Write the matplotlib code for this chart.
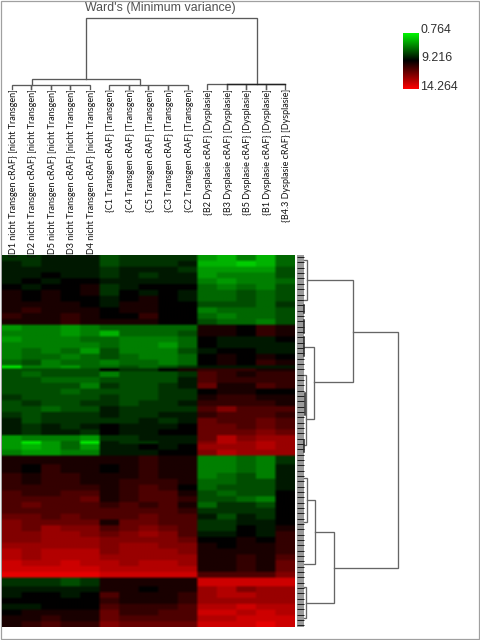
import numpy as np
import matplotlib
matplotlib.use("Agg")
import matplotlib.pyplot as plt
from matplotlib.colors import LinearSegmentedColormap
from matplotlib.patches import Rectangle

W, H = 481, 640
NARROW = ['Lato', 'Liberation Sans', 'DejaVu Sans']
SANS = ['Liberation Sans', 'DejaVu Sans']

title = "Ward's (Minimum variance)"
samples = ["{D1 nicht Transgen cRAF} [nicht Transgen]", "{D2 nicht Transgen cRAF} [nicht Transgen]",
           "{D5 nicht Transgen cRAF} [nicht Transgen]", "{D3 nicht Transgen cRAF} [nicht Transgen]",
           "{D4 nicht Transgen cRAF} [nicht Transgen]",
           "{C1 Transgen cRAF} [Transgen]", "{C4 Transgen cRAF} [Transgen]", "{C5 Transgen cRAF} [Transgen]",
           "{C3 Transgen cRAF} [Transgen]", "{C2 Transgen cRAF} [Transgen]",
           "{B2 Dysplasie cRAF} [Dysplasie]", "{B3 Dysplasie cRAF} [Dysplasie]", "{B5 Dysplasie cRAF} [Dysplasie]",
           "{B1 Dysplasie cRAF} [Dysplasie]", "{B4.3 Dysplasie cRAF} [Dysplasie]"]
scale_labels = ["0.764", "9.216", "14.264"]

# signed intensity per row: negative = green, positive = red (tenths of the colour scale)
cluster_a = [
 [-2,-2,-1,-1,-1,-3,-2,-2,-2,-2,-6,-7,-5,-7,-4],
 [-1,-2,-1,-1,-1,-3,-2,-2,-2,-1,-7,-7,-8,-7,-4],
 [-1,-1,-1,-1,-1,-2,-1,-1,-1,-2,-6,-6,-6,-6,-3],
 [-1,-1,0,-1,-1,-2,-1,-2,-1,-1,-6,-5,-5,-5,-3],
 [-1,0,-1,0,0,-1,-1,-1,-1,-1,-5,-6,-5,-5,-4],
 [0,-1,0,0,1,-2,-1,0,0,0,-4,-5,-4,-5,-3],
 [1,0,1,0,1,-2,0,-1,0,-1,-4,-4,-3,-4,-3],
 [1,0,1,0,0,-1,0,1,0,-1,-4,-4,-3,-4,-3],
 [1,1,1,1,0,-1,1,1,0,0,-3,-3,-3,-4,-2],
 [1,2,1,1,1,0,1,1,0,0,-5,-4,-4,-4,-3],
 [2,1,1,2,1,0,0,2,0,0,-4,-5,-4,-4,-3],
 [1,1,1,2,1,1,1,1,0,0,-3,-4,-4,-5,-3],
]
cluster_b = [
 [-6,-5,-5,-6,-5,-4,-4,-4,-4,-4,1,1,0,2,1],
 [-5,-5,-5,-6,-5,-7,-4,-4,-4,-3,1,1,0,2,1],
 [-6,-5,-5,-5,-4,-4,-5,-5,-5,-4,0,-1,-1,-1,0],
 [-5,-5,-5,-5,-5,-4,-5,-5,-6,-4,0,-1,-1,-1,-1],
 [-5,-4,-5,-4,-6,-3,-5,-5,-5,-3,-1,0,0,-1,-1],
 [-5,-4,-4,-5,-4,-3,-4,-5,-5,-4,0,1,0,1,0],
 [-4,-3,-5,-4,-4,-5,-4,-4,-5,-4,0,1,0,2,1],
 [-9,-5,-5,-6,-4,-4,-3,-4,-3,-2,-1,-1,-1,-1,-1],
 [-3,-3,-3,-3,-3,0,-2,-2,0,1,2,2,2,1,1],
 [-3,-4,-3,-3,-3,-5,-3,-3,-3,-2,3,2,1,2,2],
 [-3,-3,-4,-4,-4,-3,-3,-3,-3,-1,3,2,2,2,2],
 [-3,-3,-3,-3,-5,-2,-3,-3,-2,-1,4,1,1,3,2],
 [-3,-3,-3,-4,-3,-3,-3,-3,-2,-2,0,1,1,0,0],
 [-2,-3,-3,-3,-3,-2,-3,-3,-2,-2,1,2,2,1,1],
 [-3,-2,-3,-3,-2,-2,-3,-2,-2,-1,2,2,2,2,1],
 [-3,-3,-4,-3,-3,-1,-2,-2,-2,-2,3,5,3,3,3],
 [-2,-3,-2,-2,-2,-1,-2,-2,-1,-1,2,3,3,3,2],
 [-1,-3,-2,-2,-2,-2,-2,-1,-2,-1,4,3,3,4,3],
 [-1,-2,-1,-2,-1,0,-1,-1,-1,0,4,4,3,4,3],
 [-1,-2,-1,-1,-2,0,-1,-1,0,0,4,4,4,5,4],
]
cluster_c = [
 [-6,-5,-5,-5,-6,-2,-2,-1,-1,-1,4,7,5,6,6],
 [-6,-9,-6,-4,-9,-1,-2,-2,-1,-1,5,7,6,7,6],
 [-6,-7,-6,-4,-6,-1,-1,0,-1,0,6,6,6,7,6],
 [-5,-6,-6,-5,-5,-1,-1,-1,0,0,5,7,6,6,6],
]
cluster_d = [
 [1,1,1,1,1,1,1,2,1,1,-5,-5,-4,-5,-2],
 [1,0,2,1,1,0,1,2,1,1,-5,-5,-4,-5,-1],
 [2,1,2,2,1,1,1,2,1,1,-5,-4,-3,-5,-1],
 [2,1,2,2,1,1,2,2,2,1,-4,-4,-3,-3,-1],
 [2,2,2,2,2,1,2,3,2,0,-4,-3,-3,-3,-1],
 [3,2,2,3,3,1,2,3,3,1,-3,-4,-3,-3,0],
 [3,3,3,3,4,1,2,3,3,2,-3,-3,-4,-5,0],
 [3,4,3,3,3,2,3,2,3,1,-4,-2,-2,-3,0],
 [3,3,3,3,3,3,3,3,3,2,-2,-2,-2,-2,0],
 [4,4,3,4,3,3,3,4,3,3,-1,-3,-1,-2,0],
 [5,4,4,4,4,1,4,4,3,3,-2,-2,-1,-1,0],
 [5,4,6,5,5,3,4,5,4,3,-2,-2,0,-1,1],
 [5,5,6,6,5,4,5,6,5,3,-1,-1,0,-1,2],
 [5,5,6,6,6,5,5,5,5,4,0,0,1,0,2],
 [6,6,6,6,6,5,6,6,5,5,1,0,1,1,2],
 [7,6,7,7,7,5,6,6,6,5,1,1,1,1,2],
 [7,6,7,7,7,6,6,6,6,6,1,1,2,1,3],
 [8,7,7,8,7,7,6,7,7,6,1,1,2,1,4],
 [8,8,8,8,8,7,7,7,7,7,1,1,2,1,4],
 [9,9,9,9,9,8,8,8,8,8,3,3,3,3,5],
]
cluster_e = [
 [-2,-2,-2,-3,-2,1,1,1,1,1,8,8,8,8,8],
 [-1,-1,-1,-1,-1,1,1,0,1,1,6,7,5,6,6],
 [-1,0,0,-1,0,3,1,1,1,2,6,7,7,6,6],
 [0,0,0,0,0,2,1,1,1,2,6,6,6,6,6],
 [-1,-1,0,0,0,3,2,2,2,3,7,7,8,7,7],
 [0,1,1,1,1,4,2,2,3,3,8,8,7,8,7],
 [1,1,2,1,1,4,3,3,3,3,7,7,8,8,8],
 [1,2,3,2,2,5,4,4,4,4,8,8,8,9,8],
]
expr_rows = cluster_a + cluster_b + cluster_c + cluster_d + cluster_e
row_span = ([2]*12 + [2]*7 + [1, 1] + [2]*11
            + [2, 1, 2, 2] + [3, 3] + [2]*18 + [3] + [2]*7)

# dendrogram merges: (height, first branch, its base height, second branch, its base height)
col_merges = [
 (85, 0, 89, 1, 89), (85, 1, 89, 2, 89), (85, 2, 89, 3, 89), (85, 3, 89, 4, 89),
 (85, 5, 89, 6, 89), (85, 6, 89, 7, 89), (85, 7, 89, 8, 89), (85, 8, 89, 9, 89),
 (84, 10, 89, 11, 89), (84, 11, 89, 12, 89), (84, 12, 89, 13, 89), (84, 13, 89, 14, 89),
 (79, 1.03, 85, 6.57, 85),
 (17.5, 3.8, 79, 12.55, 84),
]
row_merges = [
 (307, 260, 304, 299.7, 304),
 (314.3, 346.7, 304, 419, 306),
 (306, 375, 304, 445, 304),
 (352.7, 280, 307, 382, 314.3),
 (397.7, 331.7, 352.7, 567.7, 334.3),
 (306.7, 478.3, 304, 522, 304),
 (315.3, 500, 306.7, 564, 304),
 (334.3, 531.7, 315.3, 602.7, 305.5),
 (305.5, 587, 304, 618, 304),
]
row_dark = [(304, 337, 356), (305, 393, 415), (304, 305, 313), (304, 320, 333), (304, 440, 452)]
leaf_marks = [257, 262, 268, 273, 278, 284, 289, 295, 300, 305, 311, 316, 321, 327, 332, 337, 343, 348,
              353, 359, 364, 369, 375, 380, 385, 391, 396, 401, 407, 412, 417, 423, 428, 433, 439, 444,
              449, 455, 460, 465, 471, 476, 481, 487, 492, 497, 503, 508, 513, 519, 524, 529, 535, 540,
              545, 551, 556, 561, 567, 572, 577, 583, 588, 593, 599, 604, 609, 615, 620, 625]

fig = plt.figure(figsize=(W/100, H/100), dpi=100, facecolor='white')

def px_axes(x0, y0, x1, y1):
    a = fig.add_axes([x0/W, 1-y1/H, (x1-x0)/W, (y1-y0)/H])
    a.axis('off')
    return a

cmap = LinearSegmentedColormap.from_list('rg', ['#00ff00', '#000000', '#ff0000'])
LINE = '#5a5a5a'

# frame
bg = px_axes(0, 0, W, H)
bg.set_xlim(0, W); bg.set_ylim(H, 0)
bg.add_patch(Rectangle((1, 1), W-2.5, H-2.5, fill=False, ec='#a0a0a0', lw=0.9))

# heatmap
hm = px_axes(2, 255, 295, 627)
M = np.repeat(np.array(expr_rows, float), row_span, axis=0)
M = np.repeat(M, 6, axis=1)
hm.imshow(M, cmap=cmap, vmin=-10, vmax=10, aspect='auto', interpolation='bilinear')

# column dendrogram and labels
top = px_axes(2, 0, 295, 255)
top.set_xlim(-0.5, 14.5); top.set_ylim(255, 0)
for h, a, ah, b, bh in col_merges:
    top.plot([a, a, b, b], [ah, h, h, bh], color=LINE, lw=0.95, solid_joinstyle='miter', clip_on=False)
top.plot([11, 14], [84, 84], color='#222222', lw=1.0, clip_on=False)
for i, s in enumerate(samples):
    top.text(i+0.08, 89, s, rotation=90, ha='center', va='top', family=NARROW, fontsize=6.5,
             color='#101010', clip_on=False)
fig.text(160/W, 1-7.5/H, title, ha='center', va='center', family=SANS, fontsize=8.9, color='#505050')

# row dendrogram
rt = px_axes(296, 255, 410, 627)
rt.set_xlim(296, 410); rt.set_ylim(627, 255)
rt.add_patch(Rectangle((297, 255), 7, 372, fc='#9a9a9a', ec='none'))
rt.hlines(leaf_marks, 297, 304, color='#1c1c1c', lw=0.7)
for h, a, ah, b, bh in row_merges:
    rt.plot([ah, h, h, bh], [a, a, b, b], color='#666666', lw=0.95, solid_joinstyle='miter', clip_on=False)
for h, a, b in row_dark:
    rt.plot([h, h], [a, b], color='#222222', lw=1.1)

# colour scale
cb = px_axes(403.5, 32.5, 419, 89)
cb.imshow(np.linspace(-10, 10, 256).reshape(-1, 1), cmap=cmap, vmin=-10, vmax=10, aspect='auto')
for s, x, y in zip(scale_labels, (421, 421, 420), (30, 58, 87)):
    fig.text(x/W, 1-y/H, s, ha='left', va='center', family=SANS, fontsize=8.9, color='#303030')

fig.savefig('out.png', dpi=100, facecolor='white')
